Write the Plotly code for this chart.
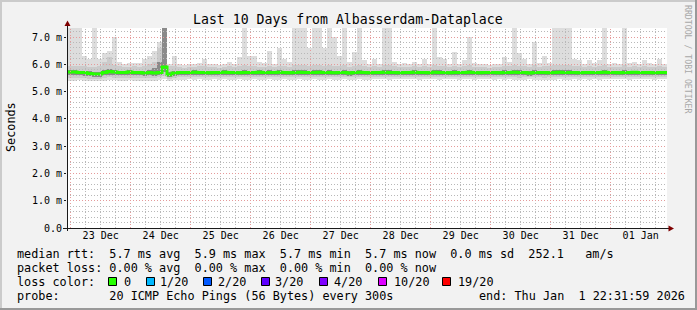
import math
import plotly.graph_objects as go
from datetime import datetime, timedelta

# ---------------- data ----------------
end_time = datetime(2026, 1, 1, 22, 31, 59)
start_time = end_time - timedelta(days=10)
bin_hours = 2

smoke_max = [
    7.5, 7.5, 7.5, 6.3, 6.2, 7.5, 6.2, 6.4, 6.5, 7.0, 6.1, 6.0, 6.05, 6.05, 6.05, 6.2, 6.3, 6.5, 6.8, 7.5,
    6.0, 6.3, 6.0, 5.98, 6.0, 6.0, 6.05, 6.2, 6.0, 6.0, 5.98, 6.0, 6.1, 6.0, 6.25, 7.5, 6.3, 6.3, 6.1, 6.05,
    6.5, 6.0, 6.6, 6.2, 6.1, 7.5, 7.5, 7.5, 6.6, 7.5, 7.5, 6.6, 7.5, 7.0, 6.3, 7.5, 6.1, 6.45, 7.5, 6.15,
    6.0, 6.2, 6.0, 7.5, 7.5, 6.1, 6.0, 6.05, 6.0, 6.1, 6.0, 6.2, 6.0, 7.5, 6.27, 6.2, 6.0, 6.45, 6.0, 6.15,
    7.0, 6.05, 6.0, 6.0, 5.98, 6.0, 6.0, 6.27, 6.1, 7.5, 6.4, 6.2, 6.0, 6.8, 6.05, 6.3, 6.05, 7.5, 7.5, 7.5,
    7.5, 6.2, 6.15, 6.0, 6.15, 6.05, 6.15, 7.5, 6.0, 6.05, 6.0, 7.5, 6.05, 6.1, 6.0, 6.15, 6.05, 6.0, 6.2, 6.0,
]
smoke_p90 = [
    5.92, 5.94, 5.93, 5.92, 5.9, 5.9, 5.92, 6.1, 6.25, 5.98, 5.92, 5.9, 5.9, 5.92, 5.9, 5.94, 6.0, 6.1, 6.6, 7.5,
    5.95, 5.92, 5.9, 5.88, 5.9, 5.9, 5.92, 5.92, 5.9, 5.9, 5.88, 5.9, 5.92, 5.9, 5.94, 5.96, 5.92, 5.92, 5.9, 5.9,
    5.94, 5.9, 5.94, 5.92, 5.9, 5.96, 5.98, 5.96, 5.94, 5.98, 5.96, 5.94, 5.96, 5.94, 5.92, 5.96, 5.9, 5.92, 5.96, 5.92,
    5.9, 5.92, 5.9, 5.96, 5.96, 5.92, 5.9, 5.9, 5.9, 5.92, 5.9, 5.92, 5.9, 5.96, 5.94, 5.92, 5.9, 5.94, 5.9, 5.92,
    5.96, 5.9, 5.9, 5.9, 5.88, 5.9, 5.9, 5.94, 5.92, 5.98, 5.94, 5.92, 5.9, 5.96, 5.9, 5.94, 5.92, 5.98, 5.98, 5.98,
    5.96, 5.92, 5.92, 5.9, 5.92, 5.9, 5.92, 5.96, 5.9, 5.9, 5.9, 5.96, 5.9, 5.92, 5.9, 5.92, 5.9, 5.9, 5.92, 5.9,
]
smoke_p75 = [
    5.78, 5.78, 5.77, 5.76, 5.74, 5.72, 5.72, 5.8, 5.84, 5.8, 5.77, 5.76, 5.78, 5.76, 5.76, 5.76, 5.78, 5.85, 6.1, 7.5,
    5.72, 5.76, 5.77, 5.76, 5.77, 5.78, 5.77, 5.77, 5.76, 5.77, 5.77, 5.78, 5.77, 5.77, 5.76, 5.78, 5.77, 5.77, 5.78, 5.77,
    5.78, 5.77, 5.78, 5.77, 5.76, 5.78, 5.79, 5.78, 5.77, 5.78, 5.78, 5.77, 5.78, 5.77, 5.77, 5.78, 5.76, 5.77, 5.78, 5.77,
    5.76, 5.77, 5.77, 5.78, 5.78, 5.77, 5.76, 5.77, 5.77, 5.78, 5.77, 5.77, 5.76, 5.78, 5.78, 5.77, 5.76, 5.78, 5.77, 5.77,
    5.78, 5.77, 5.76, 5.77, 5.76, 5.77, 5.77, 5.78, 5.77, 5.78, 5.78, 5.77, 5.76, 5.78, 5.77, 5.77, 5.77, 5.78, 5.78, 5.78,
    5.78, 5.77, 5.77, 5.76, 5.77, 5.77, 5.77, 5.78, 5.76, 5.77, 5.77, 5.78, 5.77, 5.77, 5.76, 5.77, 5.77, 5.76, 5.77, 5.77,
]
median_rtt = [
    5.72, 5.72, 5.7, 5.7, 5.66, 5.64, 5.64, 5.7, 5.74, 5.72, 5.7, 5.7, 5.72, 5.7, 5.7, 5.68, 5.7, 5.68, 5.7, 5.9,
    5.62, 5.68, 5.7, 5.7, 5.7, 5.71, 5.7, 5.7, 5.69, 5.7, 5.7, 5.71, 5.7, 5.7, 5.69, 5.7, 5.7, 5.7, 5.71, 5.7,
    5.7, 5.7, 5.71, 5.7, 5.69, 5.7, 5.71, 5.7, 5.7, 5.7, 5.71, 5.7, 5.7, 5.69, 5.7, 5.7, 5.68, 5.7, 5.71, 5.7,
    5.69, 5.7, 5.7, 5.71, 5.7, 5.7, 5.69, 5.7, 5.7, 5.71, 5.7, 5.7, 5.69, 5.71, 5.7, 5.7, 5.69, 5.7, 5.7, 5.7,
    5.71, 5.7, 5.69, 5.7, 5.7, 5.7, 5.69, 5.7, 5.7, 5.71, 5.7, 5.7, 5.68, 5.7, 5.7, 5.7, 5.69, 5.7, 5.71, 5.7,
    5.7, 5.7, 5.69, 5.7, 5.7, 5.7, 5.7, 5.71, 5.7, 5.7, 5.69, 5.7, 5.7, 5.71, 5.7, 5.7, 5.7, 5.69, 5.7, 5.7,
]
smoke_p25 = [
    5.6, 5.6, 5.59, 5.58, 5.56, 5.55, 5.55, 5.6, 5.62, 5.61, 5.6, 5.6, 5.61, 5.6, 5.6, 5.58, 5.6, 5.58, 5.62, 5.72,
    5.54, 5.58, 5.6, 5.6, 5.6, 5.61, 5.6, 5.6, 5.59, 5.6, 5.6, 5.61, 5.6, 5.6, 5.59, 5.6, 5.6, 5.6, 5.61, 5.6,
    5.6, 5.6, 5.61, 5.6, 5.59, 5.6, 5.61, 5.6, 5.6, 5.6, 5.61, 5.6, 5.6, 5.59, 5.6, 5.6, 5.58, 5.6, 5.61, 5.6,
    5.59, 5.6, 5.6, 5.61, 5.6, 5.6, 5.59, 5.6, 5.6, 5.61, 5.6, 5.6, 5.59, 5.61, 5.6, 5.6, 5.59, 5.6, 5.6, 5.6,
    5.61, 5.6, 5.59, 5.6, 5.6, 5.6, 5.59, 5.6, 5.6, 5.61, 5.6, 5.6, 5.58, 5.6, 5.6, 5.6, 5.59, 5.6, 5.61, 5.6,
    5.6, 5.6, 5.59, 5.6, 5.6, 5.6, 5.6, 5.61, 5.6, 5.6, 5.59, 5.6, 5.6, 5.61, 5.6, 5.6, 5.6, 5.59, 5.6, 5.6,
]
smoke_p10 = [
    5.5, 5.5, 5.5, 5.49, 5.47, 5.46, 5.47, 5.5, 5.52, 5.51, 5.5, 5.5, 5.51, 5.5, 5.5, 5.49, 5.5, 5.49, 5.52, 5.58,
    5.47, 5.5, 5.52, 5.52, 5.53, 5.52, 5.53, 5.52, 5.52, 5.53, 5.52, 5.53, 5.52, 5.52, 5.53, 5.52, 5.52, 5.53, 5.52, 5.52,
    5.53, 5.52, 5.52, 5.53, 5.52, 5.52, 5.53, 5.52, 5.52, 5.53, 5.52, 5.52, 5.53, 5.52, 5.52, 5.53, 5.52, 5.52, 5.53, 5.52,
    5.52, 5.53, 5.54, 5.53, 5.52, 5.53, 5.54, 5.53, 5.54, 5.53, 5.52, 5.53, 5.54, 5.53, 5.52, 5.53, 5.54, 5.53, 5.52, 5.53,
    5.53, 5.52, 5.53, 5.54, 5.53, 5.52, 5.53, 5.52, 5.53, 5.52, 5.51, 5.52, 5.53, 5.52, 5.52, 5.51, 5.52, 5.52, 5.53, 5.52,
    5.52, 5.53, 5.52, 5.53, 5.52, 5.53, 5.52, 5.53, 5.54, 5.53, 5.54, 5.53, 5.52, 5.53, 5.54, 5.53, 5.53, 5.52, 5.53, 5.53,
]
smoke_min = [
    5.4, 5.4, 5.41, 5.4, 5.38, 5.38, 5.39, 5.4, 5.42, 5.41, 5.4, 5.4, 5.41, 5.4, 5.4, 5.39, 5.4, 5.4, 5.42, 5.45,
    5.4, 5.42, 5.44, 5.44, 5.45, 5.44, 5.45, 5.44, 5.44, 5.45, 5.44, 5.45, 5.44, 5.44, 5.45, 5.44, 5.44, 5.45, 5.44, 5.44,
    5.45, 5.44, 5.44, 5.45, 5.44, 5.44, 5.45, 5.44, 5.44, 5.45, 5.44, 5.44, 5.45, 5.44, 5.44, 5.45, 5.44, 5.44, 5.45, 5.44,
    5.44, 5.45, 5.46, 5.45, 5.44, 5.45, 5.46, 5.45, 5.46, 5.45, 5.44, 5.45, 5.46, 5.45, 5.44, 5.45, 5.46, 5.45, 5.44, 5.45,
    5.45, 5.44, 5.45, 5.46, 5.45, 5.44, 5.45, 5.44, 5.45, 5.44, 5.43, 5.44, 5.45, 5.44, 5.44, 5.43, 5.44, 5.44, 5.45, 5.44,
    5.44, 5.45, 5.44, 5.45, 5.44, 5.45, 5.44, 5.45, 5.46, 5.45, 5.46, 5.45, 5.44, 5.45, 5.46, 5.45, 5.45, 5.44, 5.45, 5.45,
]

y_tick_values = [0, 1, 2, 3, 4, 5, 6, 7]
y_tick_labels = ["0.0", "1.0 m", "2.0 m", "3.0 m", "4.0 m", "5.0 m", "6.0 m", "7.0 m"]
x_tick_labels = ["23 Dec", "24 Dec", "25 Dec", "26 Dec", "27 Dec", "28 Dec",
                 "29 Dec", "30 Dec", "31 Dec", "01 Jan"]
first_label_day = datetime(2025, 12, 23)

title_text = "Last 10 Days from Albasserdam-Dataplace"
y_title = "Seconds"
watermark = "RRDTOOL / TOBI OETIKER"
legend_rows = [
    "median rtt:  5.7 ms avg  5.9 ms max  5.7 ms min  5.7 ms now  0.0 ms sd  252.1   am/s",
    "packet loss: 0.00 % avg  0.00 % max  0.00 % min  0.00 % now",
    "loss color:",
    "probe:       20 ICMP Echo Pings (56 Bytes) every 300s",
]
end_label = "end: Thu Jan  1 22:31:59 2026"
loss_labels = ["0", "1/20", "2/20", "3/20", "4/20", "10/20", "19/20"]
loss_colors = ["#26ff00", "#00b8ff", "#0059ff", "#5e00ff", "#7e00ff", "#dd00ff", "#ff0000"]

# ---------------- geometry / styles ----------------
W, H = 697, 310
PL, PR, PT, PB = 67, 667, 28, 228
Y_MAX = 7.33
FONT = "DejaVu Sans Mono"
BG = "#f2f2f2"
GRID_MINOR = "#b8b8b8"
GRID_MAJOR = "#e59a9a"
GRID_DASH = "1px,2px"


def px(x):
    return (x - PL) / (PR - PL)


def py(y):
    return (PB - y) / (PB - PT)


def nb(s):
    return s.replace(" ", "\u00a0")


n = len(median_rtt)
bin_starts = [start_time + timedelta(hours=bin_hours * i) for i in range(n)]
bin_centers = [t + timedelta(hours=bin_hours / 2) for t in bin_starts]
bin_ms = bin_hours * 3600 * 1000
span_s = (end_time - start_time).total_seconds()

fig = go.Figure()


def band(lo, hi, color):
    fig.add_trace(go.Bar(
        x=bin_centers, y=[h - l for l, h in zip(lo, hi)], base=lo, width=bin_ms,
        marker=dict(color=color, line=dict(width=0)), hoverinfo="skip", showlegend=False))


band(smoke_min, smoke_max, "#dddddd")
band(smoke_p10, smoke_p90, "#cbcbcb")
band(smoke_p25, smoke_p75, "#8a8a8a")

fig.add_trace(go.Scatter(
    x=bin_starts + [start_time + timedelta(hours=bin_hours * n)],
    y=median_rtt + [median_rtt[-1]],
    mode="lines", line=dict(color=loss_colors[0], width=3, shape="hv"),
    hoverinfo="skip", showlegend=False))

shapes = []
# grid drawn above the data (rrdtool style), snapped to pixel centres
t = datetime(2025, 12, 23, 0, 0)
while t < end_time:
    major = t.hour == 0
    xpix = PL + (PR - PL) * (t - start_time).total_seconds() / span_s
    xs = px(math.floor(xpix) + 0.5)
    shapes.append(dict(type="line", xref="paper", yref="paper", x0=xs, x1=xs, y0=0, y1=1,
                       layer="above",
                       line=dict(color=GRID_MAJOR if major else GRID_MINOR, width=1, dash=GRID_DASH)))
    t += timedelta(hours=6)
for k in range(1, int(Y_MAX / 0.2) + 1):
    v = round(k * 0.2, 2)
    major = abs(v - round(v)) < 1e-6
    ypix = PB - (PB - PT) * v / Y_MAX
    ys = py(math.floor(ypix) + 0.5)
    shapes.append(dict(type="line", xref="paper", yref="paper", x0=0, x1=1, y0=ys, y1=ys,
                       layer="above",
                       line=dict(color=GRID_MAJOR if major else GRID_MINOR, width=1, dash=GRID_DASH)))

# axes lines and arrows
AX = "#1a1a1a"
shapes.append(dict(type="line", xref="paper", yref="paper", x0=px(67.5), x1=px(67.5),
                   y0=py(231), y1=py(25), line=dict(color=AX, width=1), layer="above"))
shapes.append(dict(type="line", xref="paper", yref="paper", x0=px(63), x1=px(669),
                   y0=py(228.5), y1=py(228.5), line=dict(color=AX, width=1), layer="above"))
shapes.append(dict(type="path", xref="paper", yref="paper", layer="above",
                   path=f"M {px(64.5)} {py(26)} L {px(67.5)} {py(20.5)} L {px(70.5)} {py(26)} Z",
                   fillcolor="#7f0000", line=dict(width=0)))
shapes.append(dict(type="path", xref="paper", yref="paper", layer="above",
                   path=f"M {px(668.5)} {py(225.5)} L {px(674)} {py(228.5)} L {px(668.5)} {py(231.5)} Z",
                   fillcolor="#7f0000", line=dict(width=0)))

# image 3D border
shapes.append(dict(type="rect", xref="paper", yref="paper", x0=px(0), x1=px(697), y0=py(0), y1=py(2),
                   fillcolor="#cbcbcb", line=dict(width=0)))
shapes.append(dict(type="rect", xref="paper", yref="paper", x0=px(0), x1=px(2), y0=py(0), y1=py(310),
                   fillcolor="#cbcbcb", line=dict(width=0)))
shapes.append(dict(type="rect", xref="paper", yref="paper", x0=px(695), x1=px(697), y0=py(0), y1=py(310),
                   fillcolor="#999999", line=dict(width=0)))
shapes.append(dict(type="rect", xref="paper", yref="paper", x0=px(0), x1=px(697), y0=py(308), y1=py(310),
                   fillcolor="#999999", line=dict(width=0)))

annotations = []


def text(x, y, s, size, anchor="left", color="black", angle=0):
    annotations.append(dict(xref="paper", yref="paper", x=px(x), y=py(y), text=nb(s),
                            showarrow=False, xanchor=anchor, yanchor="middle", textangle=angle,
                            font=dict(family=FONT, size=size, color=color)))


text(347.5, 19, title_text, 13.2, "center")
text(11, 127, y_title, 11.8, "center", angle=-90)
text(688, 59, watermark, 8.2, "center", color="#a8a8a8", angle=90)

rows_y = [254, 268, 282, 296]
for s, yy in zip(legend_rows, rows_y):
    text(14.5, yy, s, 11.8)
text(477, 296, end_label, 11.8)

box_x = [108, 146, 203, 261, 319, 378, 442]
label_x = [122, 158, 216, 273, 332, 392, 456]
for lbl, col, bx, lx in zip(loss_labels, loss_colors, box_x, label_x):
    shapes.append(dict(type="rect", xref="paper", yref="paper", x0=px(bx + 0.5), x1=px(bx + 8.5),
                       y0=py(277.5), y1=py(285.5), fillcolor=col, line=dict(color="black", width=1)))
    text(lx, 282, lbl, 11.8)

x_tick_vals = [first_label_day + timedelta(days=i, hours=12) for i in range(len(x_tick_labels))]

fig.update_layout(
    width=W, height=H, autosize=False,
    margin=dict(l=PL, r=W - PR, t=PT, b=H - PB, pad=0),
    paper_bgcolor=BG, plot_bgcolor="white",
    barmode="overlay", bargap=0,
    shapes=shapes, annotations=annotations,
    font=dict(family=FONT, size=10, color="black"),
    xaxis=dict(type="date", range=[start_time, end_time], showgrid=False, zeroline=False,
               tickmode="array", tickvals=x_tick_vals, ticktext=x_tick_labels,
               ticks="", tickfont=dict(family=FONT, size=10, color="black"),
               showline=False, fixedrange=True),
    yaxis=dict(range=[0, Y_MAX], showgrid=False, zeroline=False,
               tickmode="array", tickvals=y_tick_values, ticktext=y_tick_labels,
               ticks="outside", ticklen=2, tickcolor=AX,
               tickfont=dict(family=FONT, size=10, color="black"),
               showline=False, fixedrange=True),
)

fig.write_html("out.html")
